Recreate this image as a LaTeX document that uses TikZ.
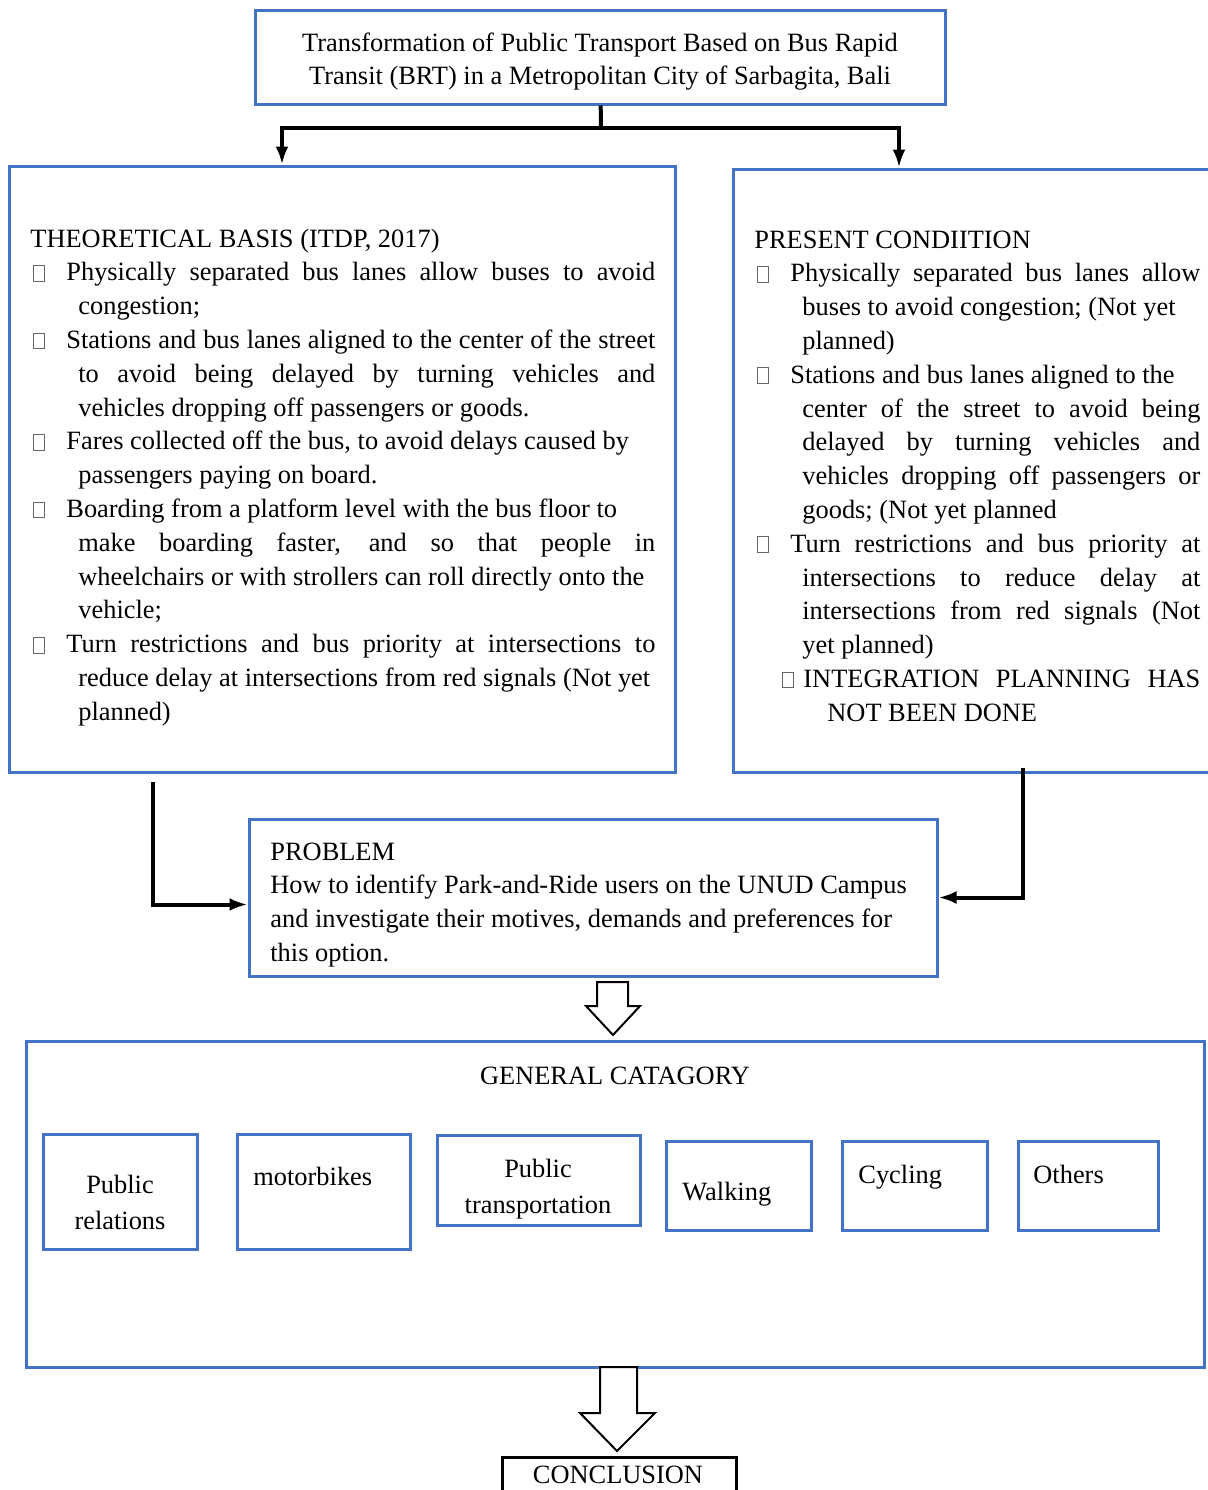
\documentclass[tikz,border=0pt]{standalone}
\usepackage{fontspec}
\setmainfont{Liberation Serif}
\usetikzlibrary{arrows.meta,fit}
\definecolor{boxblue}{HTML}{4472C4}
% empty glyph box used as bullet
\newcommand\gapbox{\textcolor{black!60}{\fboxsep=0pt\fboxrule=0.4pt\fbox{\rule{0pt}{7.5pt}\rule{5pt}{0pt}}}}
\newcommand\bentry[4]{\par\hangindent=#3\hangafter=1\noindent\hbox to #2{\hskip#1\gapbox\hss}#4}
\newcommand\bitem{\bentry{1.5pt}{18pt}{24pt}}
\begin{document}
\begin{tikzpicture}[x=0.5pt,y=-0.5pt,>={Latex[length=9pt,width=6.5pt]},line join=miter,
  every node/.style={font=\fontsize{13.2pt}{16.9pt}\selectfont},
  box/.style={draw=boxblue,line width=1.5pt,inner sep=0pt},
  txt/.style={anchor=base west,inner sep=0pt},
  ctxt/.style={anchor=base,inner sep=0pt},
  conn/.style={line width=2pt},
  hollow/.style={draw=black,line width=1pt,fill=white}]
\useasboundingbox (0,0) rectangle (1208,1490);
%%
\node (title) [box,fit={(255,10) (945,104)}] {};
\node (theory) [box,fit={(9,166) (675,772)}] {};
\node (present) [box,fit={(733,169) (1216,772)}] {};
\node (problem) [box,fit={(249,819) (937,976)}] {};
\node (general) [box,fit={(26,1041) (1204,1367)}] {};
\node (cat_1) [box,fit={(43,1134) (197,1249)}] {};
\node (cat_2) [box,fit={(237,1134) (410,1249)}] {};
\node (cat_3) [box,fit={(437,1135) (640,1225)}] {};
\node (cat_4) [box,fit={(666,1141) (811,1230)}] {};
\node (cat_5) [box,fit={(842,1141) (987,1230)}] {};
\node (cat_6) [box,fit={(1018,1141) (1158,1230)}] {};
\node (conclusion) [box,draw=black,fit={(502,1457) (736,1500)}] {};
%
\node (title_txt) at (600,51) [ctxt] {\parbox[t]{340pt}{\centering Transformation of Public Transport Based on Bus Rapid\\ Transit (BRT) in a Metropolitan City of Sarbagita, Bali}};
\node (theory_txt) at (30,247) [txt] {\parbox[t]{312.5pt}{\tolerance=9000
  THEORETICAL BASIS (ITDP, 2017)
  \bitem{Physically separated bus lanes allow buses to avoid\linebreak congestion;}
  \bitem{Stations and bus lanes aligned to the center of the street\linebreak to avoid being delayed by turning vehicles and\linebreak vehicles dropping off passengers or goods.}
  \bitem{Fares collected off the bus, to avoid delays caused by\newline passengers paying on board.}
  \bitem{Boarding from a platform level with the bus floor to\newline make boarding faster, and so that people in\linebreak wheelchairs or with strollers can roll directly onto the\newline vehicle;}
  \bitem{Turn restrictions and bus priority at intersections to\linebreak reduce delay at intersections from red signals (Not yet\newline planned)}}};
\node (present_txt) at (754,248) [txt] {\parbox[t]{223pt}{\tolerance=9000
  PRESENT CONDIITION
  \bitem{Physically separated bus lanes allow\linebreak buses to avoid congestion; (Not yet\newline planned)}
  \bitem{Stations and bus lanes aligned to the\newline center of the street to avoid being\linebreak delayed by turning vehicles and\linebreak vehicles dropping off passengers or\linebreak goods; (Not yet planned}
  \bitem{Turn restrictions and bus priority at\linebreak intersections to reduce delay at\linebreak intersections from red signals (Not\linebreak yet planned)}
  \bentry{14pt}{24.5pt}{36.5pt}{INTEGRATION PLANNING HAS\linebreak NOT BEEN DONE}}};
\node (problem_txt) at (270,860) [txt] {\parbox[t]{330pt}{PROBLEM\\ How to identify Park-and-Ride users on the UNUD Campus\\ and investigate their motives, demands and preferences for\\ this option.}};
\node (general_txt) at (615,1084) [ctxt] {GENERAL CATAGORY};
\node (cat_1_txt) at (120,1193) [ctxt] {\parbox[t]{75pt}{\centering\setlength\baselineskip{18pt}Public\\ relations}};
\node (cat_2_txt) at (253,1185) [txt] {motorbikes};
\node (cat_3_txt) at (538,1177) [ctxt] {\parbox[t]{100pt}{\centering\setlength\baselineskip{18pt}Public\\ transportation}};
\node (cat_4_txt) at (682,1200) [txt] {Walking};
\node (cat_5_txt) at (858,1183) [txt] {Cycling};
\node (cat_6_txt) at (1033,1183) [txt] {Others};
\node (conclusion_txt) at (618,1483) [ctxt] {CONCLUSION};
%
\coordinate (split) at (601,128);
\coordinate (lfoot) at (153,782);
\coordinate (rfoot) at (1023,768);
\draw [conn] (title) -- (split);
\draw [conn,->] (split) -| (282,0 |- theory.north);
\draw [conn,->] (split) -| (899,0 |- present.north);
\draw [conn,->] (lfoot) |- ([yshift=-3.5pt]problem.west);
\draw [conn,->] (rfoot) |- (problem.east);
\draw [hollow] (597,982) -- (628,982) -- (628,1006) -- (640,1006) -- (613,1035) -- (586,1006) -- (597,1006) -- cycle;
\draw [hollow] (600,1367) -- (637,1367) -- (637,1413) -- (655,1413) -- (617,1451) -- (580,1413) -- (600,1413) -- cycle;
%
\end{tikzpicture}
\end{document}
